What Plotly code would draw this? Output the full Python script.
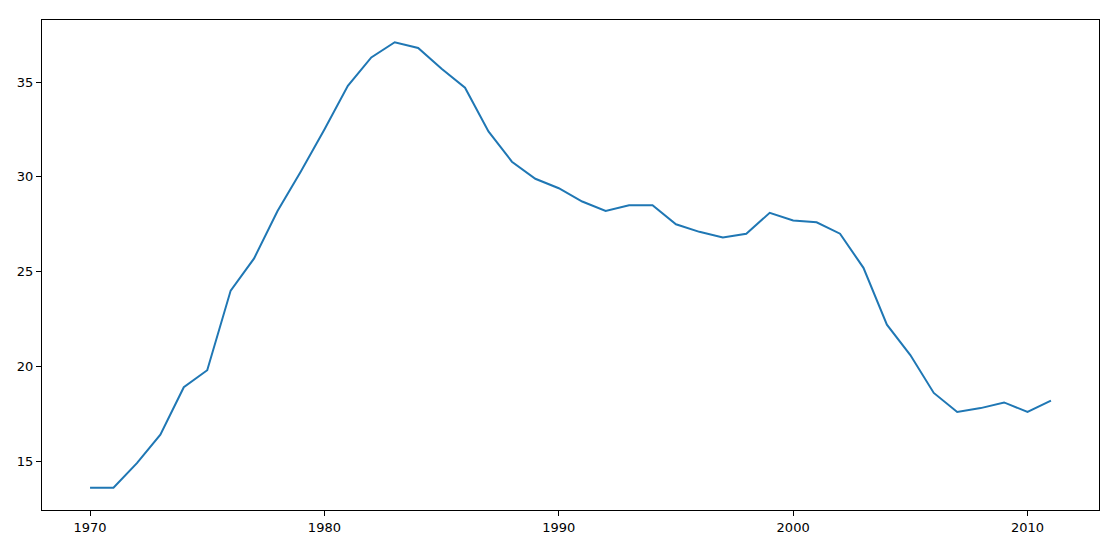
import plotly.graph_objects as go

years = list(range(1970, 2012))
values = [13.6, 13.6, 14.9, 16.4, 18.9, 19.8, 24.0, 25.7, 28.2, 30.3,
          32.5, 34.8, 36.3, 37.1, 36.8, 35.7, 34.7, 32.4, 30.8, 29.9,
          29.4, 28.7, 28.2, 28.5, 28.5, 27.5, 27.1, 26.8, 27.0, 28.1,
          27.7, 27.6, 27.0, 25.2, 22.2, 20.6, 18.6, 17.6, 17.8, 18.1,
          17.6, 18.2]
x_ticks = [1970, 1980, 1990, 2000, 2010]
y_ticks = [15, 20, 25, 30, 35]

fig = go.Figure()
fig.add_trace(go.Scatter(x=years, y=values, mode="lines",
                         line=dict(color="#1f77b4", width=2)))

axis_common = dict(showgrid=False, zeroline=False, showline=True, mirror=True,
                   linecolor="black", linewidth=1, ticks="outside", ticklen=5,
                   tickwidth=1, tickcolor="black", automargin=False,
                   tickfont=dict(family="DejaVu Sans", size=13, color="black"))

xmin, xmax = min(years), max(years)
ymin, ymax = min(values), max(values)
xpad = (xmax - xmin) * 0.05
ypad = (ymax - ymin) * 0.05

fig.update_xaxes(range=[xmin - xpad, xmax + xpad], tickvals=x_ticks,
                 ticktext=[str(t) for t in x_ticks], **axis_common)
fig.update_yaxes(range=[ymin - ypad, ymax + ypad], tickvals=y_ticks,
                 ticktext=[str(t) for t in y_ticks], **axis_common)

fig.update_layout(width=1117, height=538, showlegend=False,
                  margin=dict(l=42, r=18, t=20, b=28),
                  plot_bgcolor="white", paper_bgcolor="white")

fig.write_html("out.html", config={"displayModeBar": False},
               post_script="document.body.style.margin='0';document.body.style.overflow='hidden';")
